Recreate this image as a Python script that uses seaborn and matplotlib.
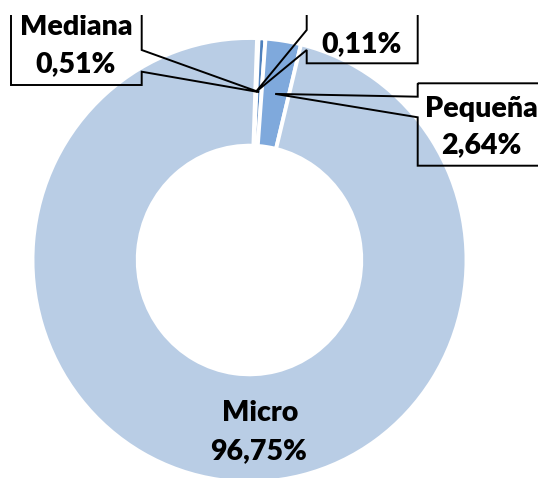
import numpy as np
import matplotlib
matplotlib.use("Agg")
import matplotlib.pyplot as plt
from matplotlib.patches import Polygon
import seaborn as sns

# ---- data ----
categories = ["Grande", "Mediana", "Pequeña", "Micro"]
shares = [0.11, 0.51, 2.64, 96.75]
colors = ["#1F497D", "#4F81BD", "#7FA9DC", "#B9CDE5"]

sns.set_theme(style="white")
plt.rcParams['font.family'] = ['Lato', 'DejaVu Sans']

W, H = 538, 478
fig = plt.figure(figsize=(W / 100, H / 100), dpi=100)
TOP = 15  # pixel row where the drawing area starts
ax = fig.add_axes([0, 0, 1, (H - TOP) / H])

# pixel geometry of the ring
CX, CY, RX, RY = 249.5, 260.0, 217.0, 222.0
HOLE = 0.515


def px(x, y):
    return ((x - CX) / RX, (CY - y) / RY)


wedges, _ = ax.pie(shares, colors=colors, startangle=88, counterclock=False,
                   radius=1.0,
                   wedgeprops=dict(width=1 - HOLE, edgecolor="white", linewidth=2.8))
ax.set_aspect("auto")
x0, y0 = px(0, TOP)
x1, y1 = px(W, H)
ax.set_xlim(x0, x1)
ax.set_ylim(y1, y0)
ax.axis("off")

rmid = 1 - (1 - HOLE) / 2


def anchor(w):
    th = np.deg2rad((w.theta1 + w.theta2) / 2)
    return (rmid * np.cos(th), rmid * np.sin(th))


def lbl(v):
    return f"{v:.2f}".replace(".", ",") + "%"


fs = 20.5
tkw = dict(fontsize=fs, fontweight="heavy", color="black", ha="center",
           va="baseline", clip_on=True, zorder=5)

# callout boxes: rect edges, pointer side and rows, text centre x, baselines
# (b1=None: the name line lies above the visible area in the reference)
boxes = {
    "Mediana": dict(l=11, r=141.7, t=-40, b=85, side="r", p1=50, p2=71.7,
                    cx=76, b1=35, b2=71.7),
    "Grande": dict(l=306.7, r=417.7, t=-40, b=63.3, side="l", p1=30, p2=50,
                   cx=362, b1=None, b2=52),
    "Pequeña": dict(l=417.7, r=545.7, t=83.3, b=165.7, side="l", p1=96.7, p2=117.3,
                    cx=481.7, b1=116.7, b2=153),
}

for cat, val, w in zip(categories, shares, wedges):
    if cat in boxes:
        bx = boxes[cat]
        tip = anchor(w)
        if bx["side"] == "r":
            pts = [px(bx["l"], bx["t"]), px(bx["r"], bx["t"]), px(bx["r"], bx["p1"]),
                   tip, px(bx["r"], bx["p2"]), px(bx["r"], bx["b"]), px(bx["l"], bx["b"])]
        else:
            pts = [px(bx["l"], bx["t"]), px(bx["r"], bx["t"]), px(bx["r"], bx["b"]),
                   px(bx["l"], bx["b"]), px(bx["l"], bx["p2"]), tip, px(bx["l"], bx["p1"])]
        ax.add_patch(Polygon(pts, closed=True, fill=False, edgecolor="black",
                             linewidth=1.4, zorder=4, joinstyle="miter"))
        if bx["b1"] is not None:
            ax.text(*px(bx["cx"], bx["b1"]), cat, **tkw)
        ax.text(*px(bx["cx"], bx["b2"]), lbl(val), **tkw)
    else:
        ax.text(*px(260, 420.7), cat, **tkw)
        ax.text(*px(259, 459), lbl(val), **tkw)

fig.savefig("out.png", dpi=100)
